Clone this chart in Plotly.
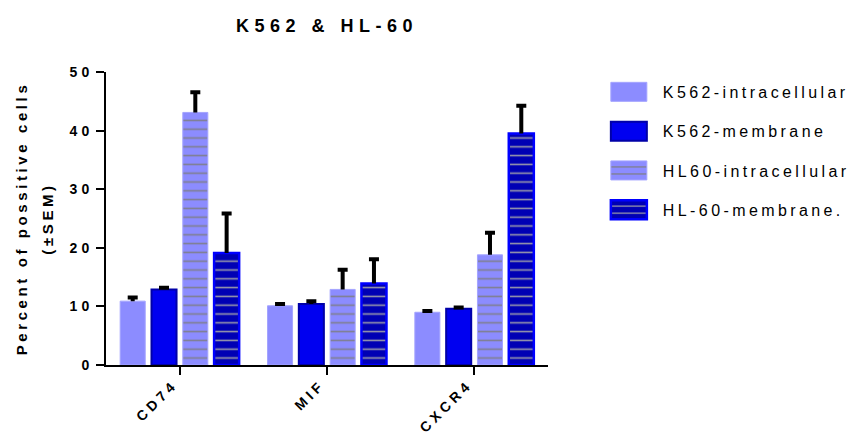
import plotly.graph_objects as go

categories = ["CD74", "MIF", "CXCR4"]
series_names = ["K562-intracellular", "K562-membrane", "HL60-intracellular", "HL-60-membrane."]

k562_intra = [10.9, 10.1, 9.0]
k562_intra_err = [0.6, 0.3, 0.2]
k562_mem = [12.9, 10.4, 9.6]
k562_mem_err = [0.3, 0.5, 0.2]
hl60_intra = [43.1, 12.9, 18.8]
hl60_intra_err = [3.45, 3.35, 3.75]
hl60_mem = [19.1, 13.9, 39.5]
hl60_mem_err = [6.75, 4.15, 4.75]

y_ticks = [0, 10, 20, 30, 40, 50]

FONT = "Arial, Liberation Sans, sans-serif"

styles = [
    dict(fill="#8c8cff", line="#a4a4ff", lw=1, pattern=None),
    dict(fill="#0000f0", line="#0000a8", lw=2, pattern=None),
    dict(fill="#8c8cff", line="#a4a4ff", lw=1, pattern="#7f7f8f"),
    dict(fill="#0000b4", line="#0000ff", lw=2.5, pattern="#9a9aaa"),
]

values = [k562_intra, k562_mem, hl60_intra, hl60_mem]
errors = [k562_intra_err, k562_mem_err, hl60_intra_err, hl60_mem_err]

fig = go.Figure()
for i, (name, vals, errs, st) in enumerate(zip(series_names, values, errors, styles)):
    marker = dict(color=st["fill"], line=dict(color=st["line"], width=st["lw"]))
    if st["pattern"]:
        marker["pattern"] = dict(shape="-", fgcolor=st["pattern"], bgcolor=st["fill"],
                                 size=8.8, solidity=0.18, fillmode="replace")
    fig.add_trace(go.Bar(
        x=categories, y=vals, name=name, marker=marker,
        legendgroup=f"g{i}",
        error_y=dict(type="data", symmetric=False, array=errs, arrayminus=[0] * len(errs),
                     color="black", thickness=4, width=5),
    ))

fig.update_layout(
    width=855, height=437,
    template="none",
    paper_bgcolor="white", plot_bgcolor="white",
    margin=dict(l=106, r=307, t=72, b=72, autoexpand=False),
    barmode="group", bargap=0.15, bargroupgap=0.2,
    font=dict(family=FONT, color="black"),
    title=dict(text="K562 & HL-60", x=0.5, xref="paper", xanchor="center",
               y=1 - 26 / 437, yref="container", yanchor="middle",
               font=dict(size=18, weight="bold", family=FONT, color="black")),
    showlegend=True,
    legend=dict(x=1.106, xanchor="left", y=0.99, yanchor="top",
                traceorder="grouped", tracegroupgap=15.5, itemwidth=58,
                font=dict(size=16, family=FONT, color="black"),
                bgcolor="rgba(0,0,0,0)", borderwidth=0),
)

fig.update_xaxes(
    showline=True, linecolor="black", linewidth=2, mirror=False,
    ticks="outside", ticklen=8, tickwidth=2, tickcolor="black",
    tickangle=-45, tickfont=dict(size=14, weight="bold", family=FONT, color="black"),
    ticklabelshift=-6, ticklabelstandoff=-4,
    showgrid=False, zeroline=False, automargin=False,
)
fig.update_yaxes(
    range=[0, 50], tickvals=y_ticks,
    showline=True, linecolor="black", linewidth=2,
    ticks="outside", ticklen=8, tickwidth=2, tickcolor="black",
    tickfont=dict(size=14, weight="bold", family=FONT, color="black"),
    showgrid=False, zeroline=False, automargin=False,
    title=dict(text="<span style='font-size:15px'>Percent of possitive cells</span><br>"
                    "<span style='font-size:15px'>(±SEM)</span>",
               standoff=19,
               font=dict(size=20, weight="bold", family=FONT, color="black")),
)

post_script = """
var st = document.createElement('style');
st.textContent = 'html,body{margin:0;padding:0;overflow:hidden}' +
  '.main-svg text.gtitle{letter-spacing:5.5px}' +
  '.main-svg text.legendtext{letter-spacing:3.4px}' +
  '.main-svg text.ytitle{letter-spacing:3.6px}' +
  '.main-svg g.xtick text, .main-svg g.ytick text{letter-spacing:4px}';
document.head.appendChild(st);
document.querySelectorAll('.legendpoints path').forEach(function(p){
  p.setAttribute('d', 'M18,9.5H-18V-9.5H18Z');
});
document.querySelectorAll('.legend, .legend .scrollbox').forEach(function(e){
  e.removeAttribute('clip-path');
  e.style.clipPath = 'none';
});
document.querySelectorAll('path.yerror').forEach(function(p){
  var d = p.getAttribute('d') || '';
  p.setAttribute('d', d.replace(/m-?[0-9.]+,0h[0-9.]+$/, ''));
});
"""

fig.write_html("out.html", post_script=post_script, config={"displayModeBar": False})
